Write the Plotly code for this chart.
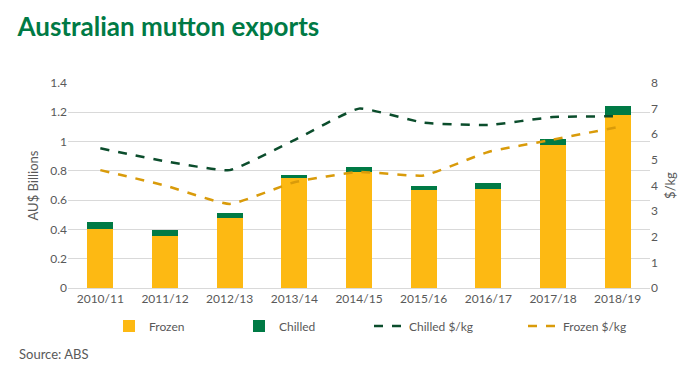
import plotly.graph_objects as go

years = ["2010/11", "2011/12", "2012/13", "2013/14", "2014/15", "2015/16", "2016/17", "2017/18", "2018/19"]
frozen = [0.40, 0.356, 0.48, 0.75, 0.793, 0.667, 0.673, 0.975, 1.179]
chilled = [0.051, 0.043, 0.03, 0.02, 0.03, 0.031, 0.045, 0.045, 0.061]
chilled_price = [5.45, 4.95, 4.6, 5.77, 7.0, 6.45, 6.36, 6.67, 6.7]
frozen_price = [4.6, 4.0, 3.28, 4.13, 4.53, 4.39, 5.31, 5.79, 6.28]

L, R, T, B = 68, 50, 83, 85
PW = 700 - L - R
PH = 373 - T - B

def px_x(px):
    return (px - L) / PW

def px_y(py):
    return (373 - B - py) / PH

fig = go.Figure()
fig.add_bar(x=years, y=frozen, name="Frozen", marker_color="#FDB913", marker_line_width=0, legend="legend5")
fig.add_bar(x=years, y=chilled, name="Chilled", marker_color="#007A45", marker_line_width=0, legend="legend2")
fig.add_scatter(x=years, y=chilled_price, name="Chilled $/kg", yaxis="y2", mode="lines", legend="legend3",
                line=dict(color="#0B4D2C", width=2.5, dash="dash", shape="spline", smoothing=0.4))
fig.add_scatter(x=years, y=frozen_price, name="Frozen $/kg", yaxis="y2", mode="lines", legend="legend4",
                line=dict(color="#D99B0A", width=2.5, dash="dash", shape="spline", smoothing=0.4))

tick_font = dict(family="Lato, Open Sans, sans-serif", size=12, color="#595959")
leg_font = dict(family="Lato, sans-serif", size=12, color="#595959")

def leg(px):
    return dict(orientation="h", x=px_x(px), xanchor="left", y=px_y(326), yanchor="middle",
                font=leg_font, bgcolor="rgba(0,0,0,0)")

fig.update_layout(
    width=700, height=373,
    margin=dict(l=L, r=R, t=T, b=B, autoexpand=False),
    paper_bgcolor="white", plot_bgcolor="white",
    barmode="stack", bargap=0.6,
    font=tick_font,
    showlegend=True,
    title=dict(text="<b>Australian mutton exports</b>", x=0.025, xanchor="left", y=0.927, yanchor="middle",
               font=dict(family="Lato, sans-serif", size=26, color="#007A45")),
    xaxis=dict(showgrid=False, showline=True, linecolor="#D9D9D9", ticks="", tickfont=tick_font, automargin=False),
    yaxis=dict(range=[0, 1.4], dtick=0.2, showgrid=True, gridcolor="#D9D9D9", zeroline=False,
               tickfont=tick_font, tickformat="~g", automargin=False,
               title=dict(text="AU$ Billions", font=dict(family="Lato, sans-serif", size=13, color="#595959"), standoff=8)),
    yaxis2=dict(range=[0, 8], dtick=1, overlaying="y", side="right", showgrid=False, zeroline=False,
                tickfont=tick_font, automargin=False,
                title=dict(text="$/kg", font=dict(family="Lato, sans-serif", size=13, color="#595959"), standoff=8)),
    legend5=leg(109),
    legend2=leg(239),
    legend3=leg(369),
    legend4=leg(523),
)
fig.add_annotation(text="Source: ABS", xref="paper", yref="paper", x=px_x(17), y=px_y(354), xanchor="left", yanchor="middle",
                   showarrow=False, font=dict(family="Lato, sans-serif", size=13, color="#595959"))
fig.write_html("out.html", config={"displayModeBar": False},
               post_script="document.body.style.margin='0';document.body.style.overflow='hidden';")
